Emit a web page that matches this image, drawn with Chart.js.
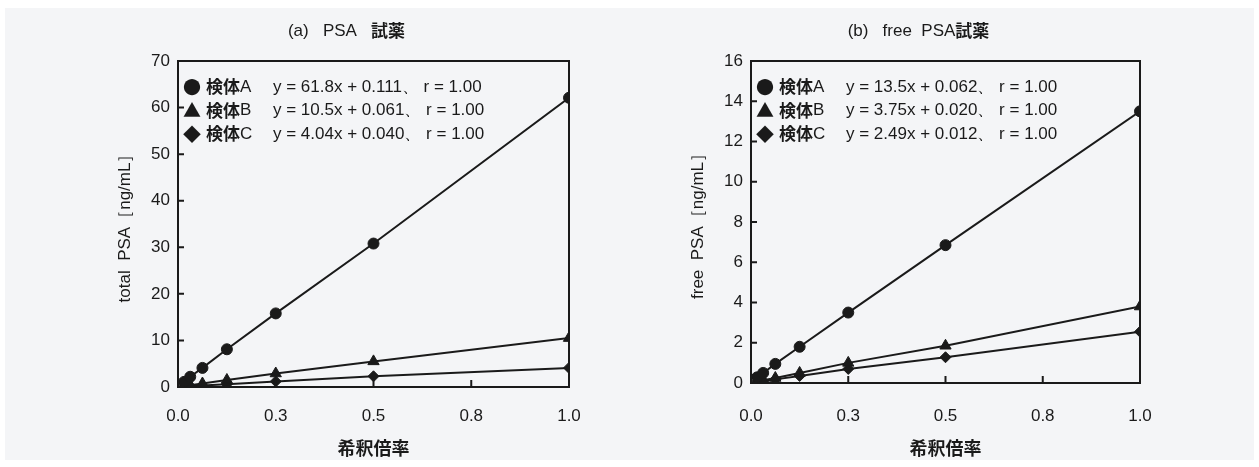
<!DOCTYPE html>
<html>
<head>
<meta charset="utf-8">
<script src="https://cdn.jsdelivr.net/npm/chart.js@4"></script>
<style>
  html, body { margin: 0; padding: 0; background: #fff; }
  body { width: 1259px; height: 467px; position: relative; overflow: hidden; }
  #panel { position: absolute; left: 5px; top: 8px; width: 1249px; height: 452px; background: #f4f5f7; }
  .box { position: absolute; top: 0; width: 630px; height: 467px; }
</style>
</head>
<body>
<div id="panel"></div>
<div class="box" style="left:0px"><canvas id="chartA"></canvas></div>
<div class="box" style="left:573px"><canvas id="chartB"></canvas></div>
<script>
// dilution ratios (x)
const dilution = [1/64, 1/32, 1/16, 1/8, 1/4, 1/2, 1];
const xTicks = [0, 0.25, 0.5, 0.75, 1];

// (a) PSA reagent, total PSA ng/mL
const psaA = [1.1, 2.2, 4.1, 8.1, 15.8, 30.8, 62.1];
const psaB = [0.2, 0.4, 0.75, 1.5, 2.9, 5.5, 10.5];
const psaC = [0.08, 0.15, 0.3, 0.6, 1.2, 2.3, 4.1];
const psaEq = ['y = 61.8x + 0.111、 r = 1.00', 'y = 10.5x + 0.061、 r = 1.00', 'y = 4.04x + 0.040、 r = 1.00'];

// (b) free PSA reagent, free PSA ng/mL
const freeA = [0.28, 0.5, 0.95, 1.8, 3.5, 6.85, 13.5];
const freeB = [0.08, 0.14, 0.25, 0.5, 1.0, 1.85, 3.8];
const freeC = [0.05, 0.09, 0.18, 0.35, 0.7, 1.28, 2.55];
const freeEq = ['y = 13.5x + 0.062、 r = 1.00', 'y = 3.75x + 0.020、 r = 1.00', 'y = 2.49x + 0.012、 r = 1.00'];

const sampleNames = ['A', 'B', 'C'];
const markers = ['●', '▲', '◆'];
const pointStyles = ['circle', 'triangle', 'rectRot'];
const pointSizes = [5.5, 6.5, 5.5];

const INK = '#1a1a1a';
const LATIN = '"Liberation Sans", Arial, sans-serif';
const CJK = '"Noto Sans CJK JP", sans-serif';

function toPoints(ys) {
  return ys.map((y, i) => ({ x: dilution[i], y: y }));
}

// frame, inward ticks, title and in-plot legend
const decorPlugin = {
  id: 'decor',
  afterDraw(chart, args, opts) {
    const ctx = chart.ctx;
    const a = chart.chartArea;
    const xs = chart.scales.x, ys = chart.scales.y;
    ctx.save();
    ctx.strokeStyle = INK;
    ctx.lineWidth = 2;
    ctx.beginPath();
    ctx.moveTo(a.left, a.top); ctx.lineTo(a.right, a.top); ctx.lineTo(a.right, a.bottom);
    ys.ticks.forEach(t => {
      const py = ys.getPixelForValue(t.value);
      ctx.moveTo(a.left, py); ctx.lineTo(a.left + 6, py);
    });
    xs.ticks.forEach(t => {
      const px = xs.getPixelForValue(t.value);
      ctx.moveTo(px, a.bottom); ctx.lineTo(px, a.bottom - 7);
    });
    ctx.stroke();

    // title with bold reagent word
    ctx.fillStyle = INK;
    ctx.textBaseline = 'middle';
    ctx.font = '17px ' + LATIN;
    const w1 = ctx.measureText(opts.title[0]).width;
    ctx.font = 'bold 17px ' + CJK;
    const w2 = ctx.measureText(opts.title[1]).width;
    let tx = (a.left + a.right) / 2 - 27 - (w1 + w2) / 2;
    ctx.font = '17px ' + LATIN;
    ctx.fillText(opts.title[0], tx, 31);
    ctx.font = 'bold 17px ' + CJK;
    ctx.fillText(opts.title[1], tx + w1, 31);

    // legend lines
    opts.eqs.forEach((eq, i) => {
      const y = a.top + 26 + i * 23.5;
      ctx.font = '18px ' + CJK;
      ctx.textAlign = 'center';
      ctx.fillText(markers[i], a.left + 14, y);
      ctx.textAlign = 'left';
      ctx.font = 'bold 17px ' + CJK;
      ctx.fillText('検体', a.left + 28, y);
      const wk = ctx.measureText('検体').width;
      ctx.font = '17px ' + LATIN;
      ctx.fillText(sampleNames[i], a.left + 28 + wk, y);
      ctx.fillText(eq, a.left + 95, y);
    });
    ctx.restore();
  }
};

function makeChart(id, series, yMax, yStep, yTitle, title, eqs, xHeight, padRight, tickPad) {
  return new Chart(document.getElementById(id), {
    type: 'line',
    data: {
      datasets: series.map((ys, i) => ({
        label: '検体' + sampleNames[i],
        data: toPoints(ys),
        borderColor: INK,
        backgroundColor: INK,
        borderWidth: 2,
        pointStyle: pointStyles[i],
        pointRadius: pointSizes[i],
        pointBorderWidth: 1,
        tension: 0
      }))
    },
    options: {
      responsive: false,
      animation: false,
      layout: { padding: { top: 61, right: padRight, left: 0, bottom: 0 } },
      scales: {
        x: {
          type: 'linear', min: 0, max: 1,
          afterFit: s => { s.height = xHeight; },
          afterBuildTicks: s => { s.ticks = xTicks.map(v => ({ value: v })); },
          ticks: { font: { size: 17, family: LATIN }, color: INK, padding: tickPad, maxRotation: 0,
                   callback: v => v.toFixed(1) },
          grid: { drawOnChartArea: false, drawTicks: false },
          border: { color: INK, width: 2 },
          title: { display: true, text: '希釈倍率', color: INK,
                   font: { size: 18, weight: 'bold', family: CJK }, padding: { top: 0, bottom: 8 } }
        },
        y: {
          min: 0, max: yMax,
          afterFit: s => { s.width = 178; },
          ticks: { stepSize: yStep, font: { size: 17, family: LATIN }, color: INK, padding: 8 },
          grid: { drawOnChartArea: false, drawTicks: false },
          border: { color: INK, width: 2 },
          title: { display: true, text: yTitle, color: INK,
                   font: { size: 17, family: LATIN }, padding: { top: 115, bottom: 0 } }
        }
      },
      plugins: {
        legend: { display: false },
        tooltip: { enabled: false },
        decor: { title: title, eqs: eqs }
      }
    },
    plugins: [decorPlugin]
  });
}

document.getElementById('chartA').width = 630;
document.getElementById('chartA').height = 467;
document.getElementById('chartB').width = 630;
document.getElementById('chartB').height = 467;

makeChart('chartA', [psaA, psaB, psaC], 70, 10, 'total  PSA［ng/mL］',
  ['(a)   PSA   ', '試薬'], psaEq, 80, 61, 19);
makeChart('chartB', [freeA, freeB, freeC], 16, 2, 'free  PSA［ng/mL］',
  ['(b)   free  PSA', '試薬'], freeEq, 84, 63, 23);
</script>
</body>
</html>
